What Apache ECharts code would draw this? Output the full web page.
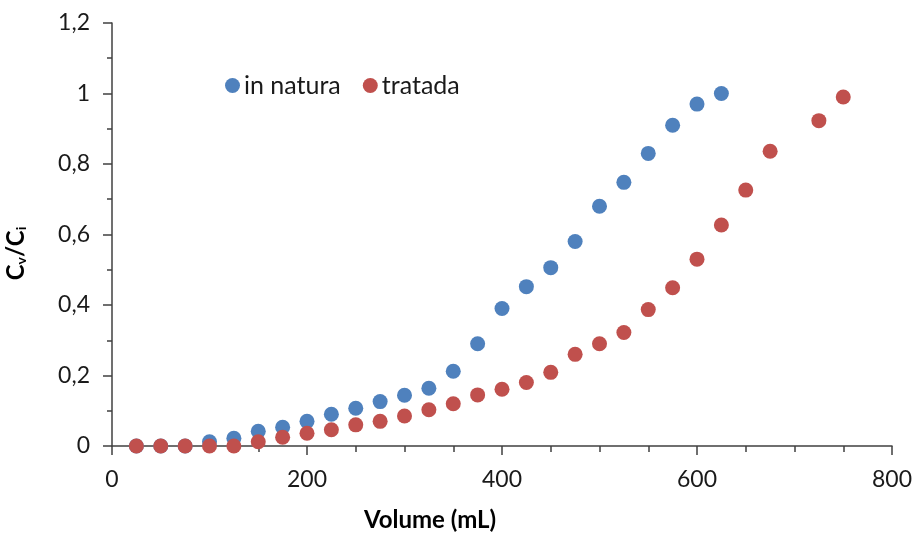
<!DOCTYPE html>
<html>
<head>
<meta charset="utf-8">
<script src="https://cdn.jsdelivr.net/npm/echarts@6/dist/echarts.min.js"></script>
<style>
  html, body { margin: 0; padding: 0; background: #fff; }
  #chart { width: 915px; height: 536px; }
</style>
</head>
<body>
<div id="chart"></div>
<script>
// Breakthrough data: relative concentration versus effluent volume
const seriesNames = ['in natura', 'tratada'];

const volumeNatura = [25, 50, 75, 100, 125, 150, 175, 200, 225, 250, 275, 300, 325,
  350, 375, 400, 425, 450, 475, 500, 525, 550, 575, 600, 625];
const ratioNatura = [0, 0, 0, 0.012, 0.022, 0.042, 0.053, 0.07, 0.09, 0.107, 0.126, 0.144, 0.164,
  0.212, 0.29, 0.39, 0.452, 0.506, 0.58, 0.68, 0.748, 0.83, 0.91, 0.97, 1.0];

const volumeTratada = [25, 50, 75, 100, 125, 150, 175, 200, 225, 250, 275, 300, 325, 350,
  375, 400, 425, 450, 475, 500, 525, 550, 575, 600, 625, 650, 675, 725, 750];
const ratioTratada = [0, 0, 0, 0, 0, 0.012, 0.025, 0.036, 0.046, 0.06, 0.07, 0.085, 0.103, 0.12,
  0.145, 0.161, 0.18, 0.209, 0.26, 0.29, 0.322, 0.387, 0.449, 0.53, 0.627, 0.726, 0.836, 0.923, 0.99];

const colors = ['#4F81BD', '#C0504D'];
const axisColor = '#404040';
const fontFamily = 'Lato, "Liberation Sans", sans-serif';

const pairs = (xs, ys) => xs.map((x, i) => [x, ys[i]]);
const decimalComma = v => String(Math.round(v * 10) / 10).replace('.', ',');

const chart = echarts.init(document.getElementById('chart'), null, { renderer: 'canvas' });

chart.setOption({
  animation: false,
  backgroundColor: '#ffffff',
  textStyle: { fontFamily: fontFamily },
  grid: { left: 112, right: 23, top: 23, bottom: 90, containLabel: false, outerBoundsMode: 'none' },
  legend: {
    data: seriesNames,
    left: 220,
    top: 68,
    icon: 'circle',
    itemWidth: 15,
    itemHeight: 15,
    itemGap: 22,
    textStyle: { fontSize: 25, color: '#1a1a1a', fontFamily: fontFamily, padding: [0, 0, 0, -1] }
  },
  xAxis: {
    type: 'value',
    min: 0,
    max: 800,
    interval: 200,
    name: 'Volume (mL)',
    nameLocation: 'middle',
    nameGap: 62,
    nameTextStyle: {
      fontSize: 24, fontWeight: 'bold', color: '#000', fontFamily: fontFamily,
      padding: [0, 144, 0, 0]
    },
    axisLine: { show: true, onZero: false, lineStyle: { color: axisColor, width: 1.5 } },
    axisTick: { show: true, inside: false, length: 9, lineStyle: { color: axisColor, width: 1.5 } },
    minorTick: { show: true, splitNumber: 4, length: 6, lineStyle: { color: axisColor, width: 1.5 } },
    axisLabel: { fontSize: 23, color: '#1a1a1a', margin: 22, fontFamily: fontFamily },
    splitLine: { show: false }
  },
  yAxis: {
    type: 'value',
    min: 0,
    max: 1.2,
    interval: 0.2,
    name: '{c|C}{s|v}{c|/C}{s|i}',
    nameLocation: 'middle',
    nameRotate: 90,
    nameGap: 84,
    nameTextStyle: {
      padding: [0, 38, 0, 0],
      rich: {
        c: { fontSize: 24, fontWeight: 'bold', color: '#000', fontFamily: fontFamily, verticalAlign: 'bottom', lineHeight: 30 },
        s: { fontSize: 14, fontWeight: 'bold', color: '#000', fontFamily: fontFamily, verticalAlign: 'bottom', lineHeight: 22 }
      }
    },
    axisLine: { show: true, onZero: false, lineStyle: { color: axisColor, width: 1.5 } },
    axisTick: { show: true, inside: false, length: 9, lineStyle: { color: axisColor, width: 1.5 } },
    minorTick: { show: true, splitNumber: 2, length: 5, lineStyle: { color: axisColor, width: 1.5 } },
    axisLabel: { fontSize: 23, color: '#1a1a1a', margin: 22, fontFamily: fontFamily, formatter: decimalComma },
    splitLine: { show: false }
  },
  series: [
    {
      name: seriesNames[0],
      type: 'scatter',
      symbol: 'circle',
      symbolSize: 15,
      itemStyle: { color: colors[0], opacity: 1 },
      data: pairs(volumeNatura, ratioNatura)
    },
    {
      name: seriesNames[1],
      type: 'scatter',
      symbol: 'circle',
      symbolSize: 15,
      itemStyle: { color: colors[1], opacity: 1 },
      data: pairs(volumeTratada, ratioTratada)
    }
  ]
});
</script>
</body>
</html>
